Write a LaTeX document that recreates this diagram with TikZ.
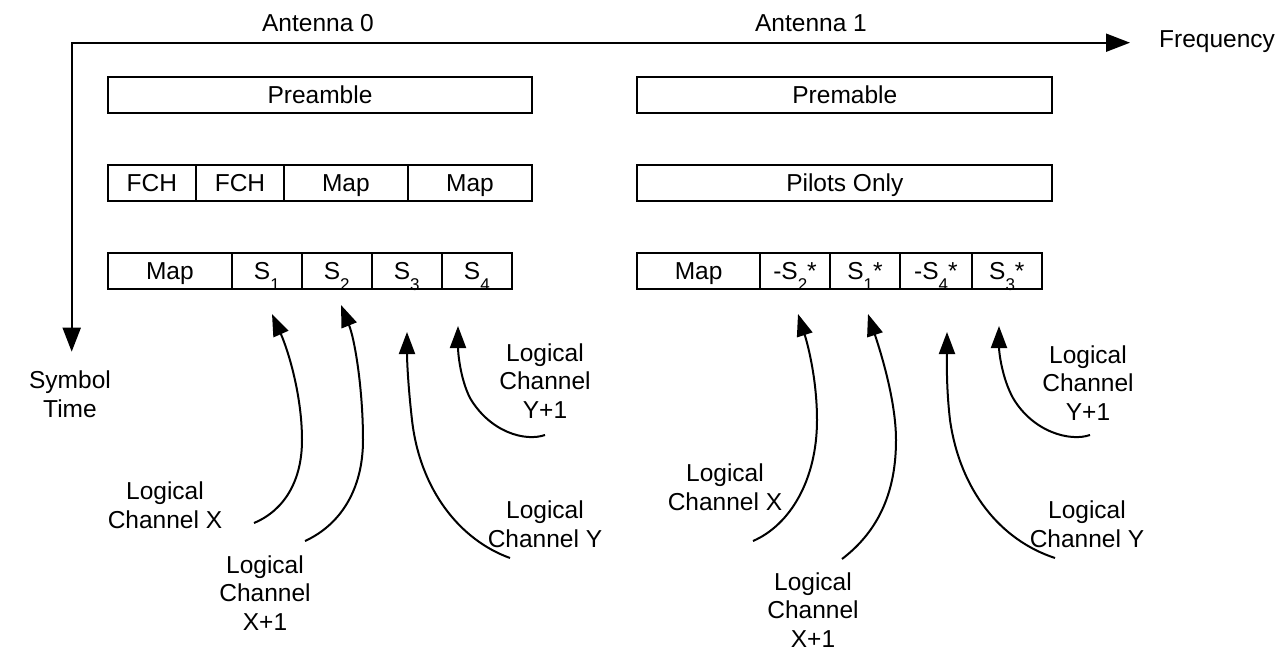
\documentclass[tikz,border=0pt]{standalone}
\usepackage{fontspec}
\setmainfont{Liberation Sans}
\usetikzlibrary{arrows.meta}
\newcommand\lowsub[1]{\raisebox{-0.42em}[0pt][0pt]{\fontsize{17}{17}\selectfont #1}}
\tikzset{
  cell/.style={draw, line width=2pt, minimum height=36pt, inner sep=0pt, anchor=center, text height=17.5pt, text depth=0pt},
  lbl/.style={inner sep=0pt, align=center},
  curv/.style={line width=2pt, -{Triangle[length=22pt,width=16pt]}},
}
\begin{document}
\begin{tikzpicture}[x=1pt,y=-1pt,font=\fontsize{24.5}{28.5}\selectfont]
\useasboundingbox (0,0) rectangle (1286,663);

% axes
\coordinate (org) at (71.7,42.7);
\coordinate (fx) at (1130,42.7);
\coordinate (ty) at (71.7,351.7);
\draw[line width=2pt, {Triangle[length=24pt,width=18pt]}-{Triangle[length=24pt,width=18pt]}] (fx) -- (org) -- (ty);
\node[lbl, anchor=west] (freq) at (1159,42) {Frequency};
\node[lbl] (stime) at (70,394) {Symbol\\Time};
\node[lbl] (ant0) at (318,23) {Antenna 0};
\node[lbl] (ant1) at (811,23) {Antenna 1};

% Antenna 0 rows
\node[cell, minimum width=424.6pt] (pre0) at (320,94.7) {Preamble};
\node[cell, minimum width=88.3pt] (fch1) at (151.85,182.7) {FCH};
\node[cell, minimum width=88pt] (fch2) at (240,182.7) {FCH};
\node[cell, minimum width=123.7pt] (map1) at (345.85,182.7) {Map};
\node[cell, minimum width=124.6pt] (map2) at (470,182.7) {Map};
\node[cell, minimum width=124.3pt] (map3) at (169.85,271) {Map};
\node[cell, minimum width=69.7pt] (s1) at (266.85,271) {S\lowsub{1}};
\node[cell, minimum width=70pt] (s2) at (336.7,271) {S\lowsub{2}};
\node[cell, minimum width=70pt] (s3) at (406.7,271) {S\lowsub{3}};
\node[cell, minimum width=70.3pt] (s4) at (476.85,271) {S\lowsub{4}};

% Antenna 1 rows
\node[cell, minimum width=415pt] (pre1) at (844.8,94.7) {Premable};
\node[cell, minimum width=415pt] (pil) at (844.8,182.7) {Pilots Only};
\node[cell, minimum width=122.7pt] (map4) at (698.65,271) {Map};
\node[cell, minimum width=70pt] (r2) at (795,271) {-S\lowsub{2}*};
\node[cell, minimum width=70pt] (r1) at (865,271) {S\lowsub{1}*};
\node[cell, minimum width=71.7pt] (r4) at (935.85,271) {-S\lowsub{4}*};
\node[cell, minimum width=70.3pt] (r3) at (1006.85,271) {S\lowsub{3}*};

% labels Antenna 0
\node[lbl] (lx) at (165,505) {Logical\\Channel X};
\node[lbl] (lx1) at (265,593) {Logical\\Channel\\X+1};
\node[lbl] (ly1) at (545,381) {Logical\\Channel\\Y+1};
\node[lbl] (ly) at (545,524) {Logical\\Channel Y};
% labels Antenna 1
\node[lbl] (rx) at (725,487) {Logical\\Channel X};
\node[lbl] (rx1) at (813,610) {Logical\\Channel\\X+1};
\node[lbl] (ry1) at (1088,383) {Logical\\Channel\\Y+1};
\node[lbl] (ry) at (1087,524) {Logical\\Channel Y};

% curve ends and tips, Antenna 0
\coordinate (a1s) at (254,523); \coordinate (a1t) at (272,314);
\coordinate (a2s) at (305,541); \coordinate (a2t) at (341,305);
\coordinate (a3s) at (510,558); \coordinate (a3t) at (407,332);
\coordinate (a4s) at (545,435); \coordinate (a4t) at (458,326);
\draw[curv] (a1s) .. controls (285,510) and (302,480) .. (302,440) .. controls (302,395) and (288,350) .. (a1t);
\draw[curv] (a2s) .. controls (340,525) and (363,490) .. (363,440) .. controls (363,390) and (355,340) .. (a2t);
\draw[curv] (a3s) .. controls (460,540) and (420,490) .. (412,420) .. controls (408,385) and (407,360) .. (a3t);
\draw[curv] (a4s) .. controls (525,442) and (490,432) .. (470,398) .. controls (460,378) and (458,352) .. (a4t);

% curve ends and tips, Antenna 1
\coordinate (b1s) at (753,541); \coordinate (b1t) at (798,314);
\coordinate (b2s) at (842,559); \coordinate (b2t) at (868,314);
\coordinate (b3s) at (1055,558); \coordinate (b3t) at (947,332);
\coordinate (b4s) at (1090,435); \coordinate (b4t) at (999,326);
\draw[curv] (b1s) .. controls (790,525) and (817,480) .. (817,420) .. controls (817,380) and (808,345) .. (b1t);
\draw[curv] (b2s) .. controls (880,530) and (896,490) .. (896,440) .. controls (896,400) and (880,350) .. (b2t);
\draw[curv] (b3s) .. controls (1000,540) and (960,490) .. (950,420) .. controls (946,385) and (947,360) .. (b3t);
\draw[curv] (b4s) .. controls (1070,442) and (1033,432) .. (1013,398) .. controls (1002,378) and (999,352) .. (b4t);
\end{tikzpicture}
\end{document}
